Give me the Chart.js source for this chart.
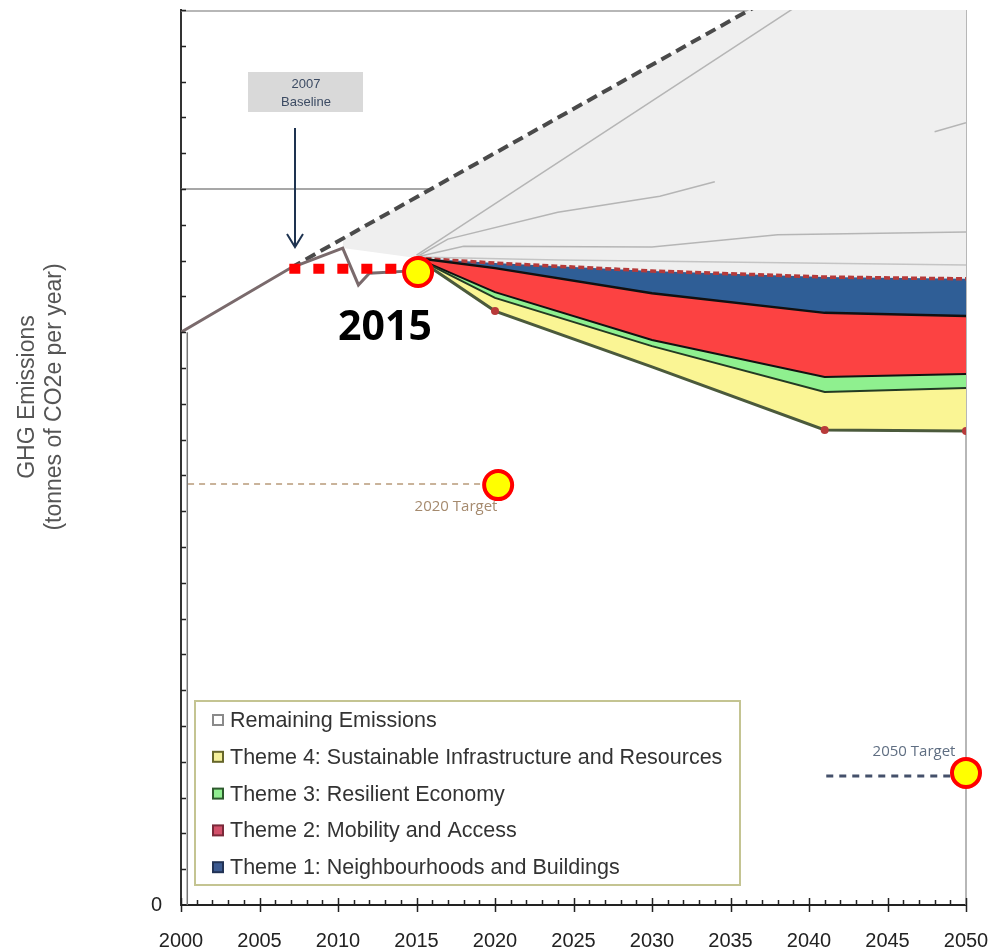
<!DOCTYPE html>
<html>
<head>
<meta charset="utf-8">
<script src="https://cdn.jsdelivr.net/npm/chart.js@4.4.1/dist/chart.umd.min.js"></script>
<style>
    body { margin: 0; background: #fff; }
    canvas { display: block; }
</style>
</head>
<body>
<canvas id="ghg-chart" width="990" height="952"></canvas>
<script>
// wedges (tonnes CO2e, axis units)
const wedgeYears   = [2015, 2020, 2030, 2041, 2050]
const remaining    = [18.07, 16.59, 15.03, 13.27, 13.24]
const theme4Top    = [18.07, 16.96, 15.61, 14.33, 14.44]
const theme3Top    = [18.07, 17.12, 15.78, 14.75, 14.83]
const theme2Top    = [18.07, 17.79, 17.09, 16.54, 16.45]
const theme1Top    = [18.07, 17.93, 17.71, 17.54, 17.49]

const greyYears    = [2010.3, 2015, 2020, 2030, 2041, 2050]
const greyBase     = [18.35, 18.07, 17.93, 17.71, 17.54, 17.49]

const histYears    = [2000, 2007, 2010.3, 2011.3, 2012, 2015]
const history      = [16.0, 17.8, 18.35, 17.32, 17.65, 17.72]

const bauYears     = [2007, 2050]
const bau          = [17.8, 28.4]

const scenAYears   = [2015, 2050]
const scenA        = [18.15, 28.2]
const scenBYears   = [2015, 2017, 2024, 2030.5, 2034, 2041, 2048, 2050]
const scenB        = [18.1, 18.6, 19.35, 19.8, 20.2, null, 21.6, 21.85]
const scenCYears   = [2015, 2018, 2030, 2038, 2050]
const scenC        = [18.1, 18.4, 18.38, 18.72, 18.8]
const scenDYears   = [2015, 2024, 2050]
const scenD        = [18.1, 18.02, 17.88]

const refYears     = [2000, 2015.9]
const refLine      = [20, 20]
const axisInYears  = [2000.4, 2000.4]
const axisIn       = [0, 16]

const dotYears     = [2006.9, 2013.8]
const dotLevel     = [17.77, 17.77]
const target2020X  = [2000.45, 2019.2]
const target2020   = [11.76, 11.76]
const target2050X  = [2041.1, 2049]
const target2050   = [3.6, 3.6]
const circleYears  = [2015.1, 2020.2, 2050]
const circles      = [17.68, 11.73, 3.69]

const xTicks       = [2000, 2005, 2010, 2015, 2020, 2025, 2030, 2035, 2040, 2045, 2050]

const legendLabels = [
    'Remaining Emissions',
    'Theme 4: Sustainable Infrastructure and Resources',
    'Theme 3: Resilient Economy',
    'Theme 2: Mobility and Access',
    'Theme 1: Neighbourhoods and Buildings'
]
const legendFill   = ['#ffffff', '#f4f09a', '#90ee90', '#d2506a', '#3c5a90']
const legendEdge   = ['#8a8a8a', '#66662a', '#2d5a2d', '#7a2a3a', '#223355']

const pts = (xs, ys) => xs.map((x, i) => ({x, y: ys[i]}))
const plain = (data, color, width, order, extra = {}) => ({
    data, borderColor: color, borderWidth: width, pointRadius: 0,
    fill: false, tension: 0, order, ...extra
})

const decor = {
    id: 'decor',
    beforeDatasetsDraw(chart) {
        const {ctx, chartArea: a} = chart
        ctx.save()
        ctx.strokeStyle = '#a0a0a0'
        ctx.lineWidth = 1.5
        ctx.beginPath()
        ctx.moveTo(a.left, a.top + 1)
        ctx.lineTo(a.right, a.top + 1)
        ctx.moveTo(a.right, a.top)
        ctx.lineTo(a.right, a.bottom)
        ctx.stroke()
        ctx.restore()
    },
    afterDraw(chart) {
        const {ctx, chartArea: a, scales: {x, y}} = chart
        ctx.save()
        // axis tick marks, drawn inwards like the original
        ctx.strokeStyle = '#222'
        ctx.lineWidth = 1.5
        ctx.beginPath()
        for (let yr = 2000; yr <= 2050; yr++) {
            const px = Math.round(x.getPixelForValue(yr)) + 0.5
            if (yr % 5 === 0) {
                ctx.moveTo(px, a.bottom - 7)
                ctx.lineTo(px, a.bottom + 7)
            } else {
                ctx.moveTo(px, a.bottom - 5)
                ctx.lineTo(px, a.bottom)
            }
        }
        for (let v = 1; v <= 25; v++) {
            const py = Math.round(y.getPixelForValue(v)) + 0.5
            ctx.moveTo(a.left, py)
            ctx.lineTo(a.left + 5, py)
        }
        ctx.stroke()

        // y axis title
        ctx.fillStyle = '#555'
        ctx.font = '23px "Liberation Sans", Arial, sans-serif'
        ctx.textAlign = 'center'
        ctx.textBaseline = 'middle'
        ctx.translate(28, 397)
        ctx.rotate(-Math.PI / 2)
        ctx.fillText('GHG Emissions', 0, 0)
        ctx.fillText('(tonnes of CO2e per year)', 0, 27)
        ctx.setTransform(1, 0, 0, 1, 0, 0)

        // 2007 baseline box and arrow
        ctx.fillStyle = '#d9d9d9'
        ctx.fillRect(248, 72, 115, 40)
        ctx.fillStyle = '#3c4b63'
        ctx.font = '13px "Liberation Sans", Arial, sans-serif'
        ctx.fillText('2007', 306, 84)
        ctx.fillText('Baseline', 306, 102)
        ctx.strokeStyle = '#1e3350'
        ctx.lineWidth = 2
        ctx.beginPath()
        ctx.moveTo(295, 128)
        ctx.lineTo(295, 246)
        ctx.moveTo(287, 234)
        ctx.lineTo(295, 247)
        ctx.lineTo(303, 234)
        ctx.stroke()

        // notes
        ctx.fillStyle = '#000'
        ctx.font = 'bold 41px "Open Sans", "Liberation Sans", sans-serif'
        ctx.fillText('2015', 385, 328)
        ctx.font = '15px "Open Sans", "Liberation Sans", sans-serif'
        ctx.fillStyle = '#a58a6e'
        ctx.fillText('2020 Target', 456, 507)
        ctx.fillStyle = '#5f6e82'
        ctx.fillText('2050 Target', 914, 752)

        // legend box
        ctx.fillStyle = '#fff'
        ctx.fillRect(195, 701, 545, 184)
        ctx.strokeStyle = '#c4c492'
        ctx.lineWidth = 2
        ctx.strokeRect(195, 701, 545, 184)
        ctx.font = '21.5px "Liberation Sans", Arial, sans-serif'
        ctx.textAlign = 'left'
        legendLabels.forEach((label, i) => {
            const cy = 720 + i * 36.8
            ctx.fillStyle = legendFill[i]
            ctx.fillRect(213, cy - 5, 10, 10)
            ctx.strokeStyle = legendEdge[i]
            ctx.lineWidth = 2
            ctx.strokeRect(213, cy - 5, 10, 10)
            ctx.fillStyle = '#333'
            ctx.fillText(label, 230, cy + 1)
        })
        ctx.restore()
    }
}

const initChart = () => {
    const canvasEl = document.getElementById('ghg-chart')
    new Chart(canvasEl.getContext('2d'), {
        type: 'line',
        data: {
            datasets: [
                plain(pts(circleYears, circles), '#ff0000', 0, 0, {
                    showLine: false, pointRadius: 14, pointBackgroundColor: '#ffff00',
                    pointBorderColor: '#ff0000', pointBorderWidth: 4, clip: false
                }),
                plain(pts(dotYears, dotLevel), '#ff0000', 10, 1, {borderDash: [11, 13], borderCapStyle: 'butt'}),
                plain(pts(target2020X, target2020), '#b89a7a', 1.5, 2, {borderDash: [6, 5]}),
                plain(pts(target2050X, target2050), '#44506a', 3, 2, {borderDash: [7, 6]}),
                plain(pts(histYears, history), '#7a6a6c', 3, 3),
                plain(pts(bauYears, bau), '#4a4a4a', 4, 3, {borderDash: [11, 6]}),
                plain(pts(wedgeYears, remaining), '#4b5a3c', 3, 4, {
                    pointRadius: [0, 4, 0, 4, 4], pointBackgroundColor: '#b83a3a', pointBorderWidth: 0
                }),
                plain(pts(wedgeYears, theme4Top), '#233a23', 2, 5, {fill: 6, backgroundColor: '#faf594'}),
                plain(pts(wedgeYears, theme3Top), '#111', 2, 5, {fill: 7, backgroundColor: '#8ff08f'}),
                plain(pts(wedgeYears, theme2Top), '#111', 2.5, 5, {fill: 8, backgroundColor: '#fc4242'}),
                plain(pts(wedgeYears, theme1Top), '#b53a3a', 3.5, 5, {fill: 9, backgroundColor: '#2f5e96', borderDash: [6, 3]}),
                plain(pts(scenAYears, scenA), '#b5b5b5', 1.5, 6),
                plain(pts(scenBYears, scenB), '#b5b5b5', 1.5, 6, {spanGaps: false}),
                plain(pts(scenCYears, scenC), '#b5b5b5', 1.5, 6),
                plain(pts(scenDYears, scenD), '#c4c4c4', 1.5, 6),
                plain(pts(refYears, refLine), '#8a8a8a', 1.5, 6),
                plain(pts(axisInYears, axisIn), '#777', 1.5, 6),
                plain(pts(greyYears, greyBase), '#efefef', 0, 9, {fill: 5, backgroundColor: '#efefef'})
            ]
        },
        options: {
            responsive: false,
            animation: false,
            layout: {autoPadding: false, padding: {top: 10, right: 24, left: 0, bottom: 0}},
            plugins: {
                legend: {display: false},
                tooltip: {enabled: false}
            },
            scales: {
                x: {
                    type: 'linear',
                    min: 2000,
                    max: 2050,
                    afterFit: scale => {
                        scale.height = 47
                        scale.paddingLeft = 0
                        scale.paddingRight = 0
                    },
                    afterBuildTicks: scale => { scale.ticks = xTicks.map(value => ({value})) },
                    border: {display: true, color: '#222', width: 2},
                    grid: {drawOnChartArea: false, drawTicks: false},
                    ticks: {
                        padding: 24,
                        color: '#222',
                        font: {family: '"Liberation Sans", Arial, sans-serif', size: 20},
                        callback: value => String(value)
                    }
                },
                y: {
                    type: 'linear',
                    min: 0,
                    max: 25,
                    afterFit: scale => {
                        scale.width = 181
                        scale.paddingTop = 0
                        scale.paddingBottom = 0
                    },
                    border: {display: true, color: '#333', width: 2},
                    grid: {drawOnChartArea: false, drawTicks: false},
                    ticks: {
                        stepSize: 5,
                        padding: 19,
                        color: '#222',
                        font: {family: '"Liberation Sans", Arial, sans-serif', size: 20},
                        callback: value => value === 0 ? '0' : ''
                    }
                }
            }
        },
        plugins: [decor]
    })
}

document.addEventListener('DOMContentLoaded', initChart, false)
</script>
</body>
</html>
